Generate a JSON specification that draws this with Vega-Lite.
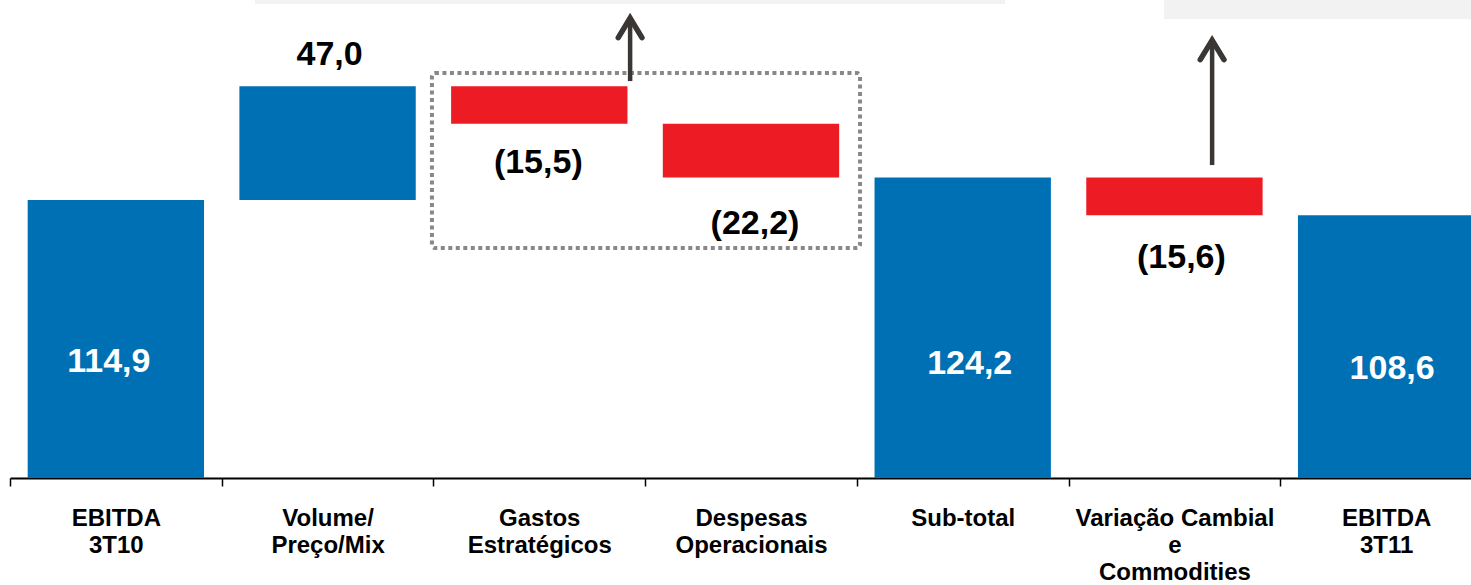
{
  "$schema": "https://vega.github.io/schema/vega-lite/v6.json",
  "width": 1482,
  "height": 478,
  "autosize": "none",
  "padding": {"left": 10, "top": 0, "right": 0, "bottom": 107},
  "background": "white",
  "config": {
    "view": {"stroke": null},
    "font": "Liberation Sans",
    "axis": {
      "title": null,
      "labelAngle": 0,
      "labelFont": "Liberation Sans",
      "labelFontSize": 24,
      "labelFontWeight": "bold",
      "labelColor": "black",
      "labelLineHeight": 27,
      "labelPadding": 20,
      "labelLimit": 0,
      "labelOverlap": false,
      "labelFlush": false,
      "tickColor": "black",
      "tickSize": 8,
      "tickWidth": 1.5,
      "domainColor": "black",
      "domainWidth": 2,
      "grid": false
    }
  },
  "datasets": {
    "steps": [
      {"cat": "EBITDA|3T10", "start": 0, "end": 114.9, "kind": "total", "label": "114,9"},
      {"cat": "Volume/|Preço/Mix", "start": 114.9, "end": 161.9, "kind": "up", "label": "47,0"},
      {"cat": "Gastos|Estratégicos", "start": 161.9, "end": 146.4, "kind": "down", "label": "(15,5)"},
      {"cat": "Despesas|Operacionais", "start": 146.4, "end": 124.2, "kind": "down", "label": "(22,2)"},
      {"cat": "Sub-total", "start": 0, "end": 124.2, "kind": "total", "label": "124,2"},
      {"cat": "Variação Cambial|e|Commodities", "start": 124.2, "end": 108.6, "kind": "down", "label": "(15,6)"},
      {"cat": "EBITDA|3T11", "start": 0, "end": 108.6, "kind": "total", "label": "108,6"}
    ]
  },
  "layer": [
    {
      "data": {"name": "steps"},
      "layer": [
        {
          "mark": {"type": "bar"},
          "encoding": {
            "x": {
              "field": "cat", "type": "nominal", "sort": null,
              "scale": {
                "domain": ["EBITDA|3T10", "Volume/|Preço/Mix", "Gastos|Estratégicos", "Despesas|Operacionais", "Sub-total", "Variação Cambial|e|Commodities", "EBITDA|3T11"],
                "paddingInner": 0.167, "paddingOuter": 0.0835
              },
              "axis": {"labelExpr": "datum.value ? split(datum.value, '|') : ''", "tickOffset": -105.86, "labelOffset": 105.86}
            },
            "y": {"field": "start", "type": "quantitative", "scale": {"domain": [0, 197.5], "nice": false, "zero": false}, "axis": null},
            "y2": {"field": "end"},
            "color": {
              "field": "kind", "type": "nominal",
              "scale": {"domain": ["total", "up", "down"], "range": ["#0070b4", "#0070b4", "#ed1c24"]},
              "legend": null
            }
          }
        },
        {
          "transform": [{"filter": "datum.kind == 'up'"}],
          "mark": {"type": "text", "fontSize": 34, "fontWeight": "bold", "color": "black", "baseline": "middle", "dy": -31, "dx": 2},
          "encoding": {"x": {"field": "cat", "type": "nominal"}, "y": {"field": "end", "type": "quantitative"}, "text": {"field": "label"}}
        },
        {
          "transform": [{"filter": "datum.label == '(15,5)'"}],
          "mark": {"type": "text", "fontSize": 34, "fontWeight": "bold", "color": "black", "baseline": "middle", "dy": 39, "dx": -1},
          "encoding": {"x": {"field": "cat", "type": "nominal"}, "y": {"field": "end", "type": "quantitative"}, "text": {"field": "label"}}
        },
        {
          "transform": [{"filter": "datum.label == '(22,2)'"}],
          "mark": {"type": "text", "fontSize": 34, "fontWeight": "bold", "color": "black", "baseline": "middle", "dy": 47, "dx": 4},
          "encoding": {"x": {"field": "cat", "type": "nominal"}, "y": {"field": "end", "type": "quantitative"}, "text": {"field": "label"}}
        },
        {
          "transform": [{"filter": "datum.label == '(15,6)'"}],
          "mark": {"type": "text", "fontSize": 34, "fontWeight": "bold", "color": "black", "baseline": "middle", "dy": 43, "dx": 7},
          "encoding": {"x": {"field": "cat", "type": "nominal"}, "y": {"field": "end", "type": "quantitative"}, "text": {"field": "label"}}
        },
        {
          "transform": [{"filter": "datum.label == '114,9'"}],
          "mark": {"type": "text", "fontSize": 34, "fontWeight": "bold", "color": "white", "baseline": "middle", "dx": -7},
          "encoding": {"x": {"field": "cat", "type": "nominal"}, "y": {"datum": 48}, "text": {"field": "label"}}
        },
        {
          "transform": [{"filter": "datum.label == '124,2'"}],
          "mark": {"type": "text", "fontSize": 34, "fontWeight": "bold", "color": "white", "baseline": "middle", "dx": 7},
          "encoding": {"x": {"field": "cat", "type": "nominal"}, "y": {"datum": 47.3}, "text": {"field": "label"}}
        },
        {
          "transform": [{"filter": "datum.label == '108,6'"}],
          "mark": {"type": "text", "fontSize": 34, "fontWeight": "bold", "color": "white", "baseline": "middle", "dx": 6},
          "encoding": {"x": {"field": "cat", "type": "nominal"}, "y": {"datum": 45}, "text": {"field": "label"}}
        }
      ]
    },
    {
      "data": {"values": [{}]},
      "layer": [
        {
          "mark": {"type": "rect", "color": "#f2f2f2"},
          "encoding": {
            "x": {"datum": 1.157, "type": "quantitative", "scale": {"domain": [0, 7], "nice": false}, "axis": null},
            "x2": {"datum": 4.70},
            "y": {"datum": 195.8, "type": "quantitative"},
            "y2": {"datum": 210}
          }
        },
        {
          "mark": {"type": "rect", "color": "#f2f2f2"},
          "encoding": {
            "x": {"datum": 5.451, "type": "quantitative"},
            "x2": {"datum": 7.2},
            "y": {"datum": 189.6, "type": "quantitative"},
            "y2": {"datum": 210}
          }
        },
        {
          "mark": {"type": "rect", "fill": null, "fillOpacity": 0, "stroke": "#888888", "strokeWidth": 4, "strokeDash": [4, 3.5], "cornerRadius": 3},
          "encoding": {
            "x": {"datum": 1.993, "type": "quantitative"},
            "x2": {"datum": 4.015},
            "y": {"datum": 167.3, "type": "quantitative"},
            "y2": {"datum": 95.0}
          }
        },
        {
          "mark": {"type": "rule", "color": "#3a3634", "strokeWidth": 4.5},
          "encoding": {
            "x": {"datum": 2.929, "type": "quantitative"},
            "y": {"datum": 164.0, "type": "quantitative"},
            "y2": {"datum": 189.2}
          }
        },
        {
          "mark": {"type": "point", "shape": "M-1,1.64L0,0L1,1.64", "size": 560, "filled": false, "stroke": "#3a3634", "strokeWidth": 5.5, "strokeCap": "round", "strokeJoin": "miter", "opacity": 1},
          "encoding": {
            "x": {"datum": 2.929, "type": "quantitative"},
            "y": {"datum": 190.0, "type": "quantitative"}
          }
        },
        {
          "mark": {"type": "rule", "color": "#3a3634", "strokeWidth": 4.5},
          "encoding": {
            "x": {"datum": 5.678, "type": "quantitative"},
            "y": {"datum": 129.3, "type": "quantitative"},
            "y2": {"datum": 180.1}
          }
        },
        {
          "mark": {"type": "point", "shape": "M-1,1.64L0,0L1,1.64", "size": 560, "filled": false, "stroke": "#3a3634", "strokeWidth": 5.5, "strokeCap": "round", "strokeJoin": "miter", "opacity": 1},
          "encoding": {
            "x": {"datum": 5.678, "type": "quantitative"},
            "y": {"datum": 180.9, "type": "quantitative"}
          }
        }
      ]
    }
  ],
  "resolve": {"scale": {"x": "independent"}}
}
